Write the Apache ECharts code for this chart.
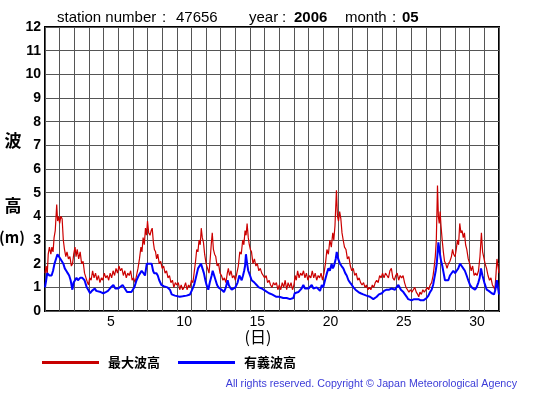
<!DOCTYPE html>
<html>
<head>
<meta charset="utf-8">
<script src="https://cdn.jsdelivr.net/npm/echarts@6/dist/echarts.min.js"></script>
<style>html,body{margin:0;padding:0;background:#fff}#c{width:555px;height:395px}</style>
</head>
<body>
<div id="c"></div>
<script>
// ---- data ----
const days = Array.from({length: 31}, (_, i) => String(i + 1));
const shownDayLabels = ['5', '10', '15', '20', '25', '30'];
const yTicks = [0,1,2,3,4,5,6,7,8,9,10,11,12];
const seriesNames = ['最大波高', '有義波高'];
// [day position (0 = start of 1st), wave height m]
const maxWave = [[0,1.6],[0.08,1.9],[0.15,1.5],[0.22,2.4],[0.3,2.7],[0.4,2.4],[0.47,2.7],[0.55,2.5],[0.62,3.1],[0.7,3.4],[0.8,4.5],[0.86,3.8],[0.93,4.0],[1.0,3.7],[1.08,4.0],[1.17,3.9],[1.25,3.0],[1.33,2.6],[1.42,2.3],[1.5,2.5],[1.6,2.2],[1.7,2.3],[1.8,1.9],[1.88,2.0],[1.96,2.4],[2.05,2.7],[2.12,2.3],[2.2,2.6],[2.3,2.2],[2.4,2.5],[2.5,2.0],[2.6,2.1],[2.7,1.6],[2.8,1.4],[2.9,1.2],[2.97,1.1],[3.05,1.4],[3.15,1.3],[3.25,1.7],[3.35,1.4],[3.45,1.6],[3.55,1.3],[3.65,1.5],[3.75,1.2],[3.85,1.4],[3.95,1.3],[4.05,1.6],[4.15,1.4],[4.25,1.5],[4.35,1.3],[4.45,1.6],[4.55,1.4],[4.65,1.7],[4.75,1.5],[4.85,1.8],[4.95,1.6],[5.05,1.9],[5.15,1.7],[5.25,1.8],[5.35,1.5],[5.45,1.7],[5.55,1.4],[5.65,1.6],[5.75,1.5],[5.85,1.7],[5.95,1.3],[6.05,1.4],[6.15,1.2],[6.25,1.5],[6.35,1.8],[6.45,2.2],[6.55,2.7],[6.62,2.5],[6.7,3.1],[6.78,2.8],[6.86,3.5],[6.93,3.2],[7.0,3.8],[7.08,3.3],[7.17,3.2],[7.25,3.4],[7.32,3.5],[7.4,2.9],[7.47,2.6],[7.55,2.5],[7.62,2.2],[7.7,2.4],[7.8,2.0],[7.9,2.1],[8.0,1.8],[8.1,1.9],[8.2,1.6],[8.3,1.7],[8.4,1.4],[8.5,1.5],[8.6,1.2],[8.7,1.3],[8.8,1.0],[8.9,1.2],[9.0,1.1],[9.1,1.2],[9.2,0.9],[9.3,1.1],[9.4,0.9],[9.5,1.0],[9.6,1.2],[9.7,0.9],[9.8,1.1],[9.9,1.0],[10.0,1.3],[10.1,1.2],[10.2,1.7],[10.28,2.1],[10.36,2.6],[10.44,2.5],[10.52,3.0],[10.6,2.8],[10.67,3.5],[10.74,3.1],[10.82,2.9],[10.9,2.4],[11.0,2.0],[11.1,1.8],[11.2,1.6],[11.28,2.2],[11.35,2.8],[11.42,3.3],[11.5,2.6],[11.58,2.4],[11.66,2.3],[11.75,1.9],[11.85,2.0],[11.95,1.6],[12.05,1.5],[12.15,1.3],[12.25,1.4],[12.35,1.2],[12.45,1.6],[12.52,1.8],[12.6,1.5],[12.7,1.7],[12.8,1.4],[12.9,1.5],[13.0,1.3],[13.1,1.6],[13.2,1.9],[13.3,2.5],[13.4,2.4],[13.5,3.0],[13.58,2.8],[13.66,3.4],[13.73,3.2],[13.8,3.7],[13.88,3.1],[13.95,2.8],[14.02,2.6],[14.1,2.5],[14.2,2.0],[14.3,2.2],[14.4,1.9],[14.5,2.0],[14.6,1.7],[14.7,1.8],[14.8,1.6],[14.9,1.5],[15.0,1.4],[15.1,1.5],[15.2,1.2],[15.3,1.3],[15.4,1.1],[15.5,1.0],[15.6,1.2],[15.7,1.1],[15.8,1.2],[15.9,0.9],[16.0,1.1],[16.1,0.9],[16.2,1.2],[16.3,1.0],[16.4,1.3],[16.5,0.9],[16.6,1.2],[16.7,1.0],[16.8,1.2],[16.9,0.9],[17.0,1.1],[17.08,1.5],[17.16,1.3],[17.25,1.7],[17.35,1.4],[17.45,1.6],[17.55,1.5],[17.65,1.7],[17.75,1.4],[17.85,1.6],[17.95,1.3],[18.05,1.5],[18.15,1.4],[18.25,1.7],[18.35,1.4],[18.45,1.6],[18.55,1.3],[18.65,1.5],[18.75,1.4],[18.85,1.6],[18.95,1.3],[19.05,1.6],[19.15,2.0],[19.25,2.6],[19.35,2.4],[19.45,3.0],[19.55,2.7],[19.65,3.3],[19.72,3.0],[19.8,3.6],[19.9,5.1],[19.97,4.0],[20.04,3.8],[20.12,4.2],[20.2,3.9],[20.28,3.3],[20.36,3.0],[20.45,2.7],[20.55,2.6],[20.65,2.2],[20.75,2.3],[20.85,1.9],[20.95,1.7],[21.05,1.8],[21.15,1.5],[21.25,1.6],[21.35,1.3],[21.45,1.4],[21.55,1.2],[21.65,1.1],[21.75,1.2],[21.85,1.0],[21.95,1.1],[22.05,0.9],[22.15,1.0],[22.25,0.9],[22.35,1.1],[22.45,1.0],[22.55,1.2],[22.65,1.3],[22.75,1.2],[22.85,1.5],[22.95,1.4],[23.05,1.6],[23.15,1.4],[23.25,1.6],[23.35,1.5],[23.45,1.4],[23.55,1.7],[23.65,1.8],[23.75,1.4],[23.85,1.3],[23.95,1.5],[24.05,1.6],[24.15,1.3],[24.25,1.5],[24.35,1.4],[24.45,1.5],[24.55,1.2],[24.65,1.0],[24.75,0.9],[24.85,0.8],[24.95,0.9],[25.05,0.8],[25.15,0.9],[25.25,1.0],[25.35,0.8],[25.45,0.7],[25.52,0.6],[25.6,0.8],[25.7,0.7],[25.8,0.9],[25.9,0.8],[26.0,0.9],[26.1,1.0],[26.2,0.9],[26.3,1.1],[26.4,1.2],[26.5,1.5],[26.58,1.9],[26.65,2.3],[26.72,3.0],[26.8,5.3],[26.86,4.0],[26.92,3.7],[26.98,4.2],[27.04,3.6],[27.12,3.0],[27.2,2.5],[27.28,2.1],[27.36,2.0],[27.45,1.8],[27.55,2.0],[27.65,2.1],[27.75,2.3],[27.83,2.6],[27.9,2.4],[28.0,2.3],[28.08,2.6],[28.16,3.0],[28.24,2.8],[28.32,3.7],[28.4,3.3],[28.48,3.4],[28.56,3.1],[28.64,3.3],[28.72,2.8],[28.8,2.6],[28.9,2.2],[29.0,2.0],[29.1,1.7],[29.2,1.9],[29.3,1.5],[29.4,1.6],[29.5,1.5],[29.6,1.7],[29.7,2.3],[29.8,3.3],[29.88,2.5],[29.95,2.3],[30.05,2.0],[30.15,1.8],[30.25,1.5],[30.35,1.3],[30.45,1.4],[30.55,1.1],[30.65,1.0],[30.72,0.9],[30.8,1.6],[30.86,2.2],[30.93,1.9],[31.0,1.6]];
const sigWave = [[0,1.0],[0.08,1.3],[0.15,1.6],[0.3,1.5],[0.45,1.5],[0.55,1.7],[0.65,2.0],[0.75,2.2],[0.85,2.4],[0.95,2.3],[1.05,2.3],[1.15,2.1],[1.25,2.0],[1.35,1.8],[1.45,1.7],[1.55,1.6],[1.65,1.5],[1.75,1.3],[1.87,0.9],[1.95,1.2],[2.05,1.3],[2.15,1.4],[2.25,1.3],[2.4,1.4],[2.55,1.4],[2.7,1.3],[2.85,1.0],[2.95,0.9],[3.08,0.75],[3.2,0.85],[3.4,0.95],[3.5,0.85],[3.6,0.8],[3.8,0.8],[3.98,0.75],[4.15,0.8],[4.3,0.85],[4.5,1.0],[4.67,1.1],[4.8,0.95],[4.9,0.9],[5.0,0.95],[5.12,1.0],[5.3,1.1],[5.45,0.95],[5.6,0.8],[5.75,0.8],[5.9,0.8],[6.1,1.0],[6.25,1.3],[6.4,1.5],[6.5,1.6],[6.6,1.7],[6.72,1.6],[6.83,1.5],[6.95,2.0],[7.1,2.0],[7.28,2.0],[7.38,1.7],[7.45,1.6],[7.6,1.6],[7.7,1.5],[7.8,1.3],[7.95,1.1],[8.1,1.05],[8.2,1.0],[8.35,1.0],[8.53,0.9],[8.65,0.7],[8.87,0.65],[9.0,0.65],[9.2,0.6],[9.4,0.62],[9.67,0.65],[9.9,0.7],[10.05,0.9],[10.18,1.1],[10.3,1.4],[10.45,1.8],[10.65,2.0],[10.75,1.8],[10.85,1.6],[10.95,1.3],[11.03,1.1],[11.15,0.9],[11.25,1.2],[11.38,1.5],[11.45,1.7],[11.55,1.5],[11.65,1.3],[11.75,1.1],[11.84,1.0],[11.95,0.95],[12.06,0.9],[12.22,0.8],[12.35,1.0],[12.47,1.3],[12.55,1.1],[12.63,1.0],[12.75,0.9],[12.86,0.9],[13.0,1.0],[13.15,1.2],[13.27,1.5],[13.35,1.4],[13.43,1.3],[13.52,1.5],[13.6,1.7],[13.66,1.9],[13.72,2.4],[13.8,2.0],[13.88,1.7],[14.0,1.5],[14.11,1.3],[14.3,1.2],[14.45,1.1],[14.6,1.0],[14.68,1.0],[14.8,0.95],[14.92,0.9],[15.05,0.85],[15.16,0.8],[15.3,0.75],[15.5,0.7],[15.65,0.65],[15.8,0.6],[16.0,0.6],[16.27,0.55],[16.5,0.55],[16.73,0.5],[16.96,0.55],[17.05,0.75],[17.18,0.8],[17.3,0.8],[17.4,0.85],[17.52,0.95],[17.64,1.1],[17.75,0.95],[17.87,0.9],[18.0,0.95],[18.1,1.0],[18.21,1.1],[18.33,0.95],[18.44,0.9],[18.55,1.0],[18.67,1.0],[18.78,0.85],[18.9,1.1],[19.0,1.0],[19.12,1.3],[19.25,1.6],[19.35,1.8],[19.45,1.7],[19.57,2.0],[19.65,1.8],[19.73,1.9],[19.85,2.2],[19.92,2.5],[20.02,2.2],[20.14,2.0],[20.25,1.9],[20.37,1.8],[20.5,1.6],[20.6,1.5],[20.72,1.3],[20.83,1.2],[20.95,1.1],[21.06,1.0],[21.2,0.9],[21.4,0.8],[21.55,0.75],[21.73,0.7],[21.95,0.65],[22.19,0.6],[22.3,0.55],[22.42,0.5],[22.55,0.55],[22.65,0.6],[22.8,0.7],[23.0,0.75],[23.15,0.85],[23.33,0.9],[23.5,0.9],[23.67,0.95],[23.8,0.9],[23.9,0.9],[24.0,1.0],[24.13,1.1],[24.3,0.9],[24.47,0.8],[24.58,0.8],[24.7,0.6],[24.8,0.5],[25.03,0.45],[25.2,0.5],[25.35,0.5],[25.5,0.5],[25.65,0.45],[25.84,0.45],[25.95,0.5],[26.06,0.55],[26.18,0.65],[26.29,0.8],[26.4,0.9],[26.5,1.1],[26.59,1.4],[26.68,1.7],[26.75,2.0],[26.86,2.9],[26.97,2.4],[27.05,2.1],[27.13,1.9],[27.22,1.6],[27.31,1.3],[27.42,1.3],[27.54,1.3],[27.65,1.5],[27.76,1.5],[27.88,1.7],[28.0,1.6],[28.11,1.7],[28.22,1.8],[28.34,2.0],[28.45,1.9],[28.56,1.8],[28.67,1.7],[28.79,1.5],[28.9,1.3],[29.02,1.1],[29.14,1.0],[29.25,0.95],[29.36,0.9],[29.47,1.0],[29.59,1.2],[29.68,1.4],[29.77,1.8],[29.87,1.5],[30.0,1.2],[30.16,0.9],[30.3,0.85],[30.5,0.75],[30.66,0.7],[30.75,0.9],[30.85,1.3],[30.93,1.0],[31.0,0.7]];

const LAT = '"Liberation Sans", Arial, sans-serif';
const CJK = '"Noto Sans CJK JP", sans-serif';

const chart = echarts.init(document.getElementById('c'), null, {renderer: 'canvas'});
chart.setOption({
  animation: false,
  backgroundColor: '#fff',
  grid: {left: 45, top: 27, right: 56, bottom: 84, show: true, borderColor: '#000', borderWidth: 2, backgroundColor: 'transparent'},
  xAxis: [
    {type: 'value', min: 0, max: days.length, interval: 1,
     axisLine: {show: false}, axisTick: {show: false}, axisLabel: {show: false},
     splitLine: {show: true, lineStyle: {color: '#555', width: 1}}},
    {type: 'category', data: days, boundaryGap: true, position: 'bottom',
     axisLine: {show: false}, axisTick: {show: false}, splitLine: {show: false},
     axisLabel: {interval: 0, margin: 4, fontSize: 14, color: '#000', fontFamily: LAT,
       formatter: v => shownDayLabels.includes(v) ? v : ''}}
  ],
  yAxis: {type: 'value', min: yTicks[0], max: yTicks[yTicks.length - 1], interval: 1,
    axisLine: {show: false}, axisTick: {show: false},
    axisLabel: {margin: 4, fontSize: 14, fontWeight: 'bold', color: '#000', fontFamily: LAT},
    splitLine: {show: true, lineStyle: {color: '#555', width: 1}}},
  legend: {
    left: 42, top: 356, padding: 0, icon: 'rect', itemWidth: 57, itemHeight: 3, itemGap: 18,
    data: seriesNames,
    textStyle: {fontSize: 13, fontWeight: 'bold', color: '#000', fontFamily: CJK, padding: [0, 0, 0, 4]}
  },
  series: [
    {name: seriesNames[0], type: 'line', data: maxWave, showSymbol: false, color: '#c80000',
     lineStyle: {width: 1.2, color: '#cc0000'}, xAxisIndex: 0, z: 2},
    {name: seriesNames[1], type: 'line', data: sigWave, showSymbol: false, color: '#0000ff',
     lineStyle: {width: 2, color: '#0000ff'}, xAxisIndex: 0, z: 3}
  ],
  graphic: [
    {type: 'text', x: 57, y: 18, style: {text: 'station number', font: '15px ' + LAT, fill: '#000', verticalAlign: 'middle'}},
    {type: 'text', x: 162, y: 18, style: {text: ':', font: '15px ' + LAT, fill: '#000', verticalAlign: 'middle'}},
    {type: 'text', x: 176, y: 18, style: {text: '47656', font: '15px ' + LAT, fill: '#000', verticalAlign: 'middle'}},
    {type: 'text', x: 249, y: 18, style: {text: 'year', font: '15px ' + LAT, fill: '#000', verticalAlign: 'middle'}},
    {type: 'text', x: 282, y: 18, style: {text: ':', font: '15px ' + LAT, fill: '#000', verticalAlign: 'middle'}},
    {type: 'text', x: 294, y: 18, style: {text: '2006', font: 'bold 15px ' + LAT, fill: '#000', verticalAlign: 'middle'}},
    {type: 'text', x: 345, y: 18, style: {text: 'month', font: '15px ' + LAT, fill: '#000', verticalAlign: 'middle'}},
    {type: 'text', x: 392, y: 18, style: {text: ':', font: '15px ' + LAT, fill: '#000', verticalAlign: 'middle'}},
    {type: 'text', x: 402, y: 18, style: {text: '05', font: 'bold 15px ' + LAT, fill: '#000', verticalAlign: 'middle'}},
    {type: 'text', x: 13, y: 141, style: {text: '波', font: 'bold 17px ' + CJK, fill: '#000', align: 'center', verticalAlign: 'middle'}},
    {type: 'text', x: 13, y: 206, style: {text: '高', font: 'bold 17px ' + CJK, fill: '#000', align: 'center', verticalAlign: 'middle'}},
    {type: 'text', x: 12, y: 237, style: {text: '(m)', font: 'bold 15px ' + CJK, fill: '#000', align: 'center', verticalAlign: 'middle'}},
    {type: 'text', x: 258, y: 337, style: {text: '(日)', font: '16px ' + CJK, fill: '#000', align: 'center', verticalAlign: 'middle'}},
    {type: 'text', x: 517, y: 384, style: {text: 'All rights reserved. Copyright © Japan Meteorological Agency', font: '10.7px ' + LAT, fill: '#3c3cd8', align: 'right', verticalAlign: 'middle'}}
  ]
});
</script>
</body>
</html>
